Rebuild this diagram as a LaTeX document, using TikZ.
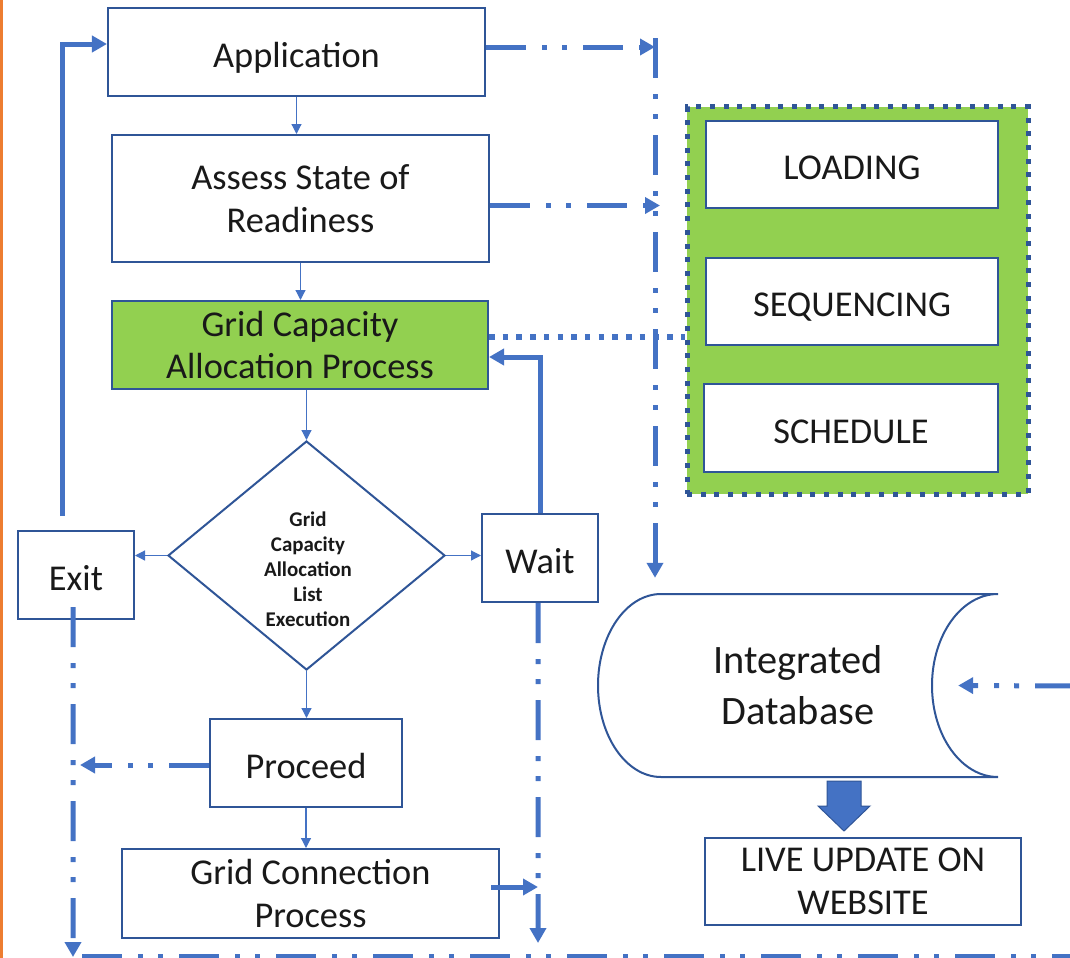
\documentclass[tikz,border=0pt]{standalone}
\usepackage{fontspec}
\setmainfont{Carlito}
\usetikzlibrary{shapes.geometric,arrows.meta}
\definecolor{boxblue}{HTML}{2F5597}
\definecolor{linkblue}{HTML}{4472C4}
\definecolor{gridgreen}{HTML}{92D050}
\definecolor{edgeorange}{HTML}{ED7D31}
\tikzset{
  stage/.style={rectangle,draw=boxblue,line width=2bp,fill=white,inner sep=0pt,
    align=center,text=black!90,font=\fontsize{36.5}{43}\selectfont},
  oneline/.style={text height=32bp,text depth=2bp},
  panel/.style={rectangle,fill=gridgreen,draw=boxblue,line width=5bp,
    dash pattern=on 5bp off 8.7bp,inner sep=0pt},
  thinlink/.style={draw=linkblue,line width=1.2bp,-{Triangle[length=10bp,width=10bp]}},
  thicklink/.style={draw=linkblue,line width=5bp,-{Triangle[length=15bp,width=16bp]}},
  dashlink/.style={draw=linkblue,line width=5bp,
    dash pattern=on 40bp off 16bp on 5bp off 15bp on 5bp off 16bp},
  dotlink/.style={draw=linkblue,line width=5.5bp,dash pattern=on 5.5bp off 8.2bp}
}
\begin{document}
\begin{tikzpicture}[x=1bp,y=-1bp]
\useasboundingbox (0,0) rectangle (1070,958);
\draw[edgeorange,line width=3.5bp] (1.5,0) -- (1.5,958);

\node[stage,oneline,minimum width=377bp,minimum height=88bp] (app) at (296.5,52) {Application};
\node[stage,minimum width=377bp,minimum height=127bp] (assess) at (300.5,198.5) {Assess State of\\Readiness};
\node[stage,fill=gridgreen,minimum width=376bp,minimum height=88bp] (gcap) at (300,345) {Grid Capacity\\Allocation Process};
\node[diamond,draw=boxblue,line width=2bp,fill=white,inner sep=0pt,
  minimum width=277bp,minimum height=229bp] (dec) at (306.5,555.5) {};
\node[align=center,font=\fontsize{21}{25}\selectfont\bfseries,text=black!90] (declabel) at (308,569)
  {Grid\\Capacity\\Allocation\\List\\Execution};
\node[stage,oneline,minimum width=116bp,minimum height=88bp] (exit) at (76,575) {Exit};
\node[stage,oneline,minimum width=116bp,minimum height=88bp] (wait) at (540,558) {Wait};
\node[stage,oneline,minimum width=192bp,minimum height=88bp] (proceed) at (306,763) {Proceed};
\node[stage,minimum width=377bp,minimum height=89bp] (gconn) at (310.5,893.5) {Grid Connection\\Process};

\node[panel,minimum width=341bp,minimum height=387bp] (panel) at (857.5,300.5) {};
\node[stage,oneline,minimum width=292bp,minimum height=87bp] (load) at (852,164.5) {LOADING};
\node[stage,oneline,minimum width=292bp,minimum height=87bp] (seq) at (852,301.5) {SEQUENCING};
\node[stage,oneline,minimum width=294bp,minimum height=88bp] (sched) at (851,428) {SCHEDULE};

\draw[draw=boxblue,line width=2bp,fill=white] (998,594) -- (661,594)
  arc[start angle=270,end angle=90,x radius=63,y radius=91.5] -- (998,777)
  arc[start angle=90,end angle=270,x radius=66,y radius=91.5];
\node[align=center,inner sep=0pt,minimum width=400bp,minimum height=183bp,
  text=black!90,font=\fontsize{40.5}{51}\selectfont] (db) at (798,685.5) {Integrated\\Database};
\node[stage,minimum width=316bp,minimum height=87bp] (live) at (863,881.5) {LIVE UPDATE ON\\WEBSITE};
\draw[fill=linkblue,draw=boxblue,line width=1bp] (827,781) -- (861,781) -- (861,806) -- (870,806)
  -- (844,831) -- (818,806) -- (827,806) -- cycle;

\coordinate (busT) at (655,38);
\coordinate (sinkL) at (73,957);
\coordinate (sinkM) at (538,943);
\coordinate (floorA) at (82,956);
\coordinate (floorB) at (1075,956);
\coordinate (feedR) at (1075,686);
\coordinate (gcapR) at ([yshift=8bp]gcap.east);
\coordinate (appR) at ([yshift=5bp]app.east);
\coordinate (assessR) at ([yshift=-7bp]assess.east);
\coordinate (procL) at ([yshift=-2bp]proceed.west);
\coordinate (gconnR) at ([xshift=-9bp,yshift=6.5bp]gconn.east);

\draw[thinlink] (app.south) -- (app.south |- assess.north);
\draw[thinlink] (assess.south) -- (assess.south |- gcap.north);
\draw[thinlink] (dec.north |- gcap.south) -- (dec.north);
\draw[thinlink] (dec.south) -- (dec.south |- proceed.north);
\draw[thinlink] (proceed.south) -- (proceed.south |- gconn.north);
\draw[thinlink] (dec.west) -- (dec.west -| exit.east);
\draw[thinlink] (dec.east) -- (dec.east -| wait.west);

\draw[thicklink] ([xshift=-14bp,yshift=14bp]exit.north) |- ([yshift=8bp]app.west);
\draw[thicklink] (wait.north) |- ([yshift=-12bp]gcap.east);
\draw[thicklink] (gconnR) -- (gconnR -| sinkM);

\draw[dashlink,-{Triangle[length=15bp,width=16bp]}] (appR) -- (appR -| busT);
\draw[dashlink,-{Triangle[length=15bp,width=16bp]},shorten >=16bp] (busT) -- (busT |- db.north);
\draw[dashlink,-{Triangle[length=15bp,width=16bp]},shorten >=-5bp] (assessR) -- (assessR -| busT);
\draw[dotlink] (gcapR) -- (gcapR -| panel.west);
\draw[dashlink,-{Triangle[length=15bp,width=16bp]}] ([xshift=-3bp,yshift=13bp]exit.south) -- (sinkL);
\draw[dashlink,-{Triangle[length=15bp,width=16bp]},shorten >=7bp] (procL) -- (procL -| sinkL);
\draw[dashlink,-{Triangle[length=15bp,width=16bp]}] ([xshift=-2bp]wait.south) -- (sinkM);
\draw[dashlink] (floorA) -- (floorB);
\draw[dashlink,-{Triangle[length=15bp,width=16bp]}] (feedR) -- ([xshift=-40bp]db.east);
\end{tikzpicture}
\end{document}
